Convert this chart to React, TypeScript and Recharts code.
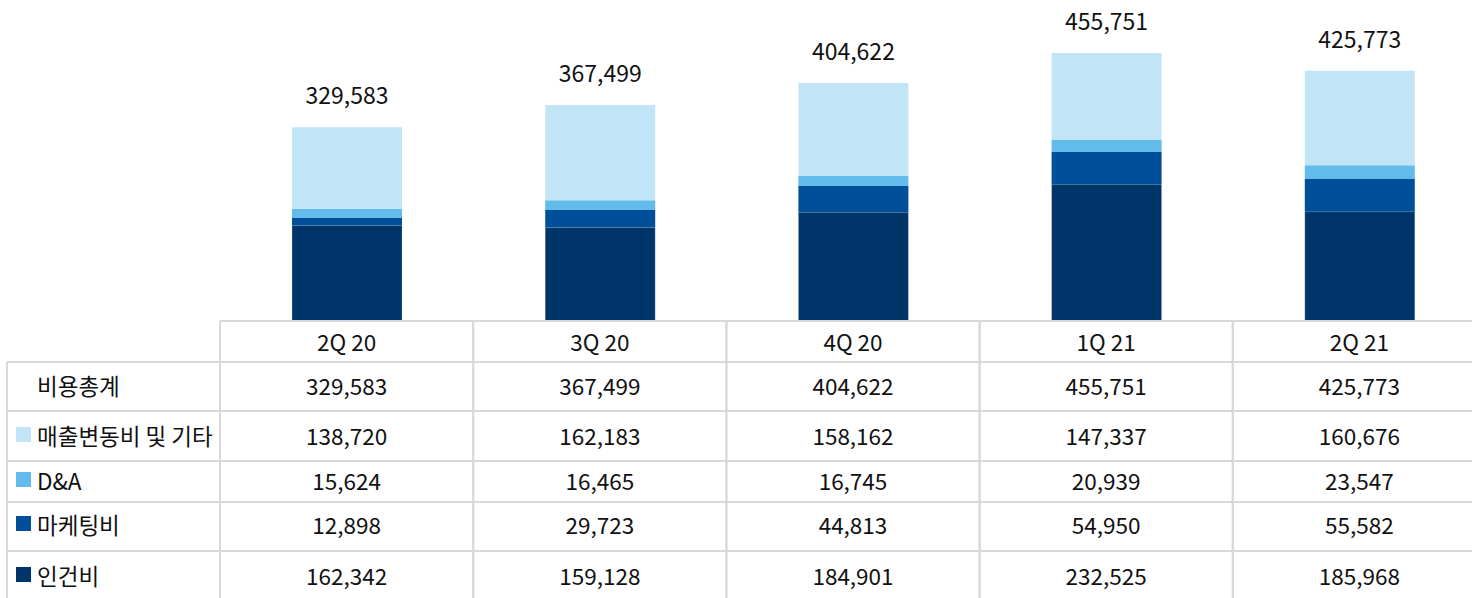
import { BarChart, Bar, XAxis, YAxis, LabelList } from "recharts"

const quarters = ["2Q 20", "3Q 20", "4Q 20", "1Q 21", "2Q 21"]
const personnel = [162342, 159128, 184901, 232525, 185968]
const marketing = [12898, 29723, 44813, 54950, 55582]
const depreciation = [15624, 16465, 16745, 20939, 23547]
const variableCost = [138720, 162183, 158162, 147337, 160676]
const totals = [329583, 367499, 404622, 455751, 425773]

const rowLabels = ["비용총계", "매출변동비 및 기타", "D&A", "마케팅비", "인건비"]
const rowSeries = [totals, variableCost, depreciation, marketing, personnel]

const COLORS = {
  variable: "#c2e4f7",
  da: "#62bbea",
  marketing: "#004f98",
  personnel: "#00356a",
}
const rowColors: (string | null)[] = [null, COLORS.variable, COLORS.da, COLORS.marketing, COLORS.personnel]

const FONT = "'Noto Sans CJK KR', 'Noto Sans', sans-serif"
const CHART_W = 1486
const CHART_H = 598
const LEFT = 220
const TABLE_TOP = 321
const GRID = "#d9d9d9"
const FS = 22.5
// horizontal table lines and text centres
const LINES = [362, 411, 461, 502, 551]
const ROW_MID = [385, 435, 480, 524, 575]
const HEAD_MID = 341

const data = quarters.map((q, i) => ({
  q,
  personnel: personnel[i],
  marketing: marketing[i],
  da: depreciation[i],
  variable: variableCost[i],
}))

const fmt = (n: number) => n.toLocaleString("en-US")

function TableTick(props: any) {
  const { x, index } = props
  const band = (CHART_W - LEFT) / quarters.length
  const l = x - band / 2
  const r = x + band / 2
  return (
    <g>
      {index === 0 && (
        <g>
          <line x1={7} y1={LINES[0]} x2={7} y2={CHART_H} stroke={GRID} strokeWidth={2} />
          {LINES.map((y) => (
            <line key={y} x1={7} y1={y} x2={LEFT} y2={y} stroke={GRID} strokeWidth={2} />
          ))}
          {rowLabels.map((lab, i) => (
            <g key={lab}>
              {rowColors[i] && <rect x={16} y={ROW_MID[i] - 8} width={15} height={15} fill={rowColors[i] as string} />}
              <text x={37} y={ROW_MID[i]} dominantBaseline="central" fontFamily={FONT} fontSize={FS} fill="#111">
                {lab}
              </text>
            </g>
          ))}
        </g>
      )}
      <line x1={l} y1={TABLE_TOP} x2={r} y2={TABLE_TOP} stroke={GRID} strokeWidth={2} />
      <line x1={l} y1={TABLE_TOP} x2={l} y2={CHART_H} stroke={GRID} strokeWidth={2} />
      <line x1={r} y1={TABLE_TOP} x2={r} y2={CHART_H} stroke={GRID} strokeWidth={2} />
      {LINES.map((y) => (
        <line key={y} x1={l} y1={y} x2={r} y2={y} stroke={GRID} strokeWidth={2} />
      ))}
      <text x={x} y={HEAD_MID} textAnchor="middle" dominantBaseline="central" fontFamily={FONT} fontSize={FS} fill="#111">
        {quarters[index]}
      </text>
      {rowSeries.map((s, i) => (
        <text key={i} x={x} y={ROW_MID[i]} textAnchor="middle" dominantBaseline="central" fontFamily={FONT} fontSize={FS} fill="#111">
          {fmt(s[index])}
        </text>
      ))}
    </g>
  )
}

function TotalLabel(props: any) {
  const { x, y, width, index } = props
  return (
    <text x={x + width / 2} y={y - 33} textAnchor="middle" dominantBaseline="central" fontFamily={FONT} fontSize={23} fill="#111">
      {fmt(totals[index])}
    </text>
  )
}

export default function App() {
  return (
    <div style={{ position: "absolute", left: 0, top: 0, width: 1472, height: 598, overflow: "hidden", background: "#fff" }}>
      <BarChart
        width={CHART_W}
        height={CHART_H}
        data={data}
        margin={{ top: 0, right: 0, bottom: 0, left: LEFT }}
        barSize={110}
      >
        <XAxis
          dataKey="q"
          height={CHART_H - TABLE_TOP}
          axisLine={false}
          tickLine={false}
          interval={0}
          tick={<TableTick />}
        />
        <YAxis hide domain={[0, 546000]} />
        <Bar dataKey="personnel" stackId="a" fill={COLORS.personnel} stroke="#ffffff" strokeOpacity={0.2} isAnimationActive={false} />
        <Bar dataKey="marketing" stackId="a" fill={COLORS.marketing} isAnimationActive={false} />
        <Bar dataKey="da" stackId="a" fill={COLORS.da} isAnimationActive={false} />
        <Bar dataKey="variable" stackId="a" fill={COLORS.variable} isAnimationActive={false}>
          <LabelList dataKey="variable" content={<TotalLabel />} />
        </Bar>
      </BarChart>
    </div>
  )
}
